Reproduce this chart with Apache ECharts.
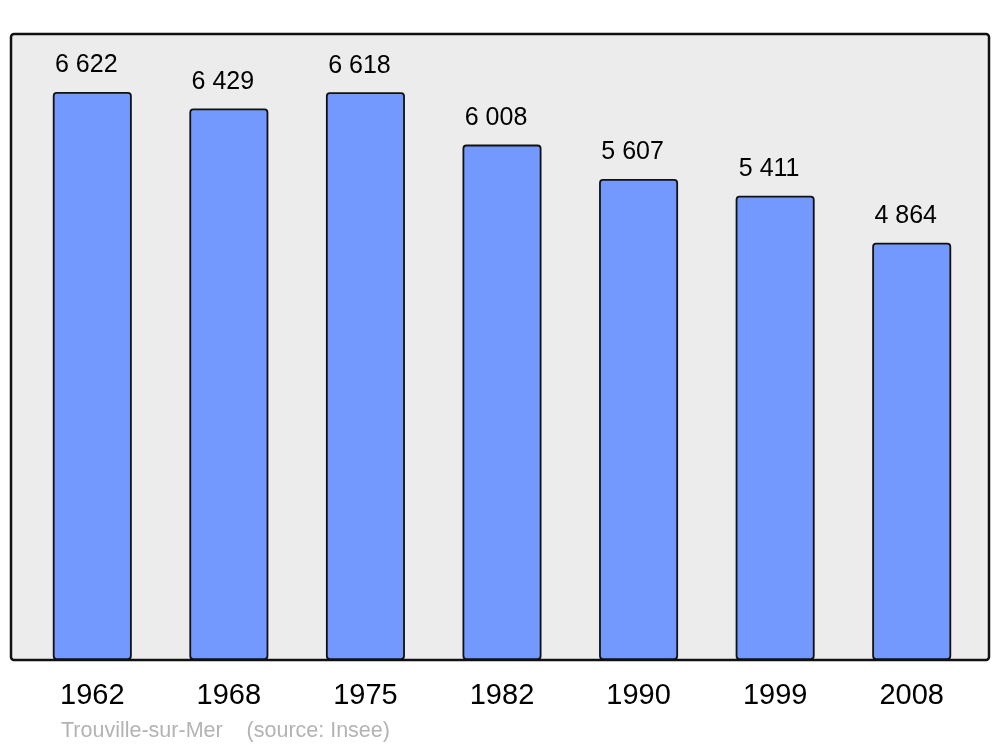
<!DOCTYPE html>
<html>
<head>
<meta charset="utf-8">
<script src="https://cdn.jsdelivr.net/npm/echarts@6/dist/echarts.min.js"></script>
<style>html,body{margin:0;padding:0;background:#fff}#c{width:1000px;height:747px}</style>
</head>
<body>
<div id="c"></div>
<script>
const years = ['1962', '1968', '1975', '1982', '1990', '1999', '2008'];
const population = [6622, 6429, 6618, 6008, 5607, 5411, 4864];
const sourceText = 'Trouville-sur-Mer    (source: Insee)';

const fmt = v => String(v).replace(/\B(?=(\d{3})+(?!\d))/g, ' ');
const chart = echarts.init(document.getElementById('c'), null, {renderer: 'canvas'});
chart.setOption({
  animation: false,
  backgroundColor: '#ffffff',
  textStyle: {fontFamily: 'Liberation Sans, Arial, sans-serif'},
  title: {
    text: sourceText, left: 61, top: 720, padding: 0,
    textStyle: {fontSize: 21.5, fontWeight: 'normal', color: '#b3b3b3', fontFamily: 'Liberation Sans, Arial, sans-serif'}
  },
  graphic: [{
    type: 'rect', z: -10,
    shape: {x: 11, y: 34, width: 978, height: 626, r: 3},
    style: {fill: '#ececec', stroke: '#111111', lineWidth: 2.5}
  }],
  grid: {left: 24, right: 20, top: 59.5, bottom: 87, containLabel: false},
  xAxis: {
    type: 'category', data: years,
    axisLine: {show: false}, axisTick: {show: false},
    axisLabel: {fontSize: 29, color: '#000', margin: 21, fontFamily: 'Liberation Sans, Arial, sans-serif'}
  },
  yAxis: {
    type: 'value', min: 0, max: 7000,
    show: false, splitLine: {show: false}
  },
  series: [{
    type: 'bar', data: population, barWidth: 79,
    itemStyle: {color: '#7399ff', borderColor: '#111111', borderWidth: 1.8, borderRadius: 3},
    label: {
      show: true, position: 'top', distance: 14, offset: [-6, 0],
      formatter: p => fmt(p.value),
      fontSize: 25, color: '#000', fontFamily: 'Liberation Sans, Arial, sans-serif'
    }
  }]
});
</script>
</body>
</html>
